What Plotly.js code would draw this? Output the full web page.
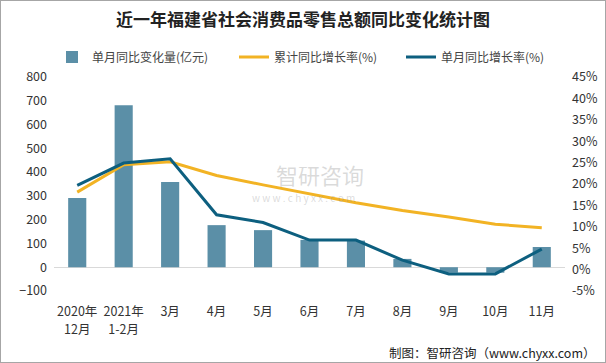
<!DOCTYPE html>
<html><head><meta charset="utf-8">
<script src="https://cdn.plot.ly/plotly-3.0.1.min.js"></script>
<style>
html,body{margin:0;padding:0;background:#fff;}
#wrap{position:relative;width:606px;height:363px;}
#chart{width:606px;height:363px;}
#border{position:absolute;left:0;top:0;width:604px;height:361px;border:1px solid #a6a6a6;pointer-events:none;}
</style></head>
<body><div id="wrap"><div id="chart"></div><div id="border"></div></div>
<script>
const categories = ["2020年","2021年","3月","4月","5月","6月","7月","8月","9月","10月","11月"];
const secondRowLabels = ["12月","1-2月","","","","","","","","",""];
const monthlyChange = [291, 681, 358, 177, 156, 115, 112, 35, -23, -23, 85];
const cumulativeRate = [18.1, 24.5, 25.2, 22.0, 19.8, 17.7, 15.6, 13.8, 12.3, 10.6, 9.8];
const monthlyRate = [19.7, 24.9, 25.9, 12.8, 11.0, 6.9, 6.9, 2.2, -1.0, -1.0, 4.8];
const leftTicks = [-100,0,100,200,300,400,500,600,700,800];
const rightTicks = [-5,0,5,10,15,20,25,30,35,40,45];

const F = '"Noto Sans CJK SC", "Liberation Sans", sans-serif';
const secondRowIdx = secondRowLabels.map((t,i)=>i).filter(i=>secondRowLabels[i]!=='');
const traces = [
  {type:'bar', name:'单月同比变化量(亿元)', x:categories, y:monthlyChange,
   marker:{color:'#5b8fa7'}, yaxis:'y', legend:'legend'},
  {type:'scatter', mode:'lines', name:'累计同比增长率(%)', x:categories, y:cumulativeRate,
   line:{color:'#f2b324', width:3}, yaxis:'y2', legend:'legend2'},
  {type:'scatter', mode:'lines', name:'单月同比增长率(%)', x:categories, y:monthlyRate,
   line:{color:'#0d5f7f', width:3}, yaxis:'y2', legend:'legend3'},
  {type:'scatter', mode:'markers', x:secondRowIdx, y:secondRowIdx.map(()=>0), xaxis:'x2', yaxis:'y',
   marker:{opacity:0, size:1}, showlegend:false, hoverinfo:'skip'}
];
const legFont = {family:F, size:12, color:'#444'};
const legY = 1.093;
const layout = {
  width:606, height:363,
  margin:{l:54, r:41, t:77, b:72},
  paper_bgcolor:'#fff', plot_bgcolor:'#fff',
  title:{text:'近一年福建省社会消费品零售总额同比变化统计图', x:0.5, xanchor:'center', y:0.945, yanchor:'middle',
         font:{family:F, size:17, color:'#222', weight:'bold'}},
  font:{family:F, size:12.5, color:'#333'},
  bargap:0.61,
  showlegend:true,
  legend:{orientation:'h', x:(52-54)/511, xanchor:'left', y:legY, yanchor:'middle', font:legFont},
  legend2:{orientation:'h', x:(234-54)/511, xanchor:'left', y:legY, yanchor:'middle', font:legFont},
  legend3:{orientation:'h', x:(401-54)/511, xanchor:'left', y:legY, yanchor:'middle', font:legFont},
  xaxis:{type:'category', showgrid:false, zeroline:false, showline:false, ticks:'', tickfont:{family:F, size:12.5, color:'#333'}, ticklabelstandoff:11},
  xaxis2:{type:'linear', overlaying:'x', side:'bottom', range:[-0.5, categories.length-0.5], tickmode:'array', tickvals:secondRowIdx, ticktext:secondRowIdx.map(i=>secondRowLabels[i]),
          showgrid:false, zeroline:false, showline:false, ticks:'', tickfont:{family:F, size:12.5, color:'#333'}, ticklabelstandoff:29},
  yaxis:{range:[-100,800], tickvals:leftTicks, showgrid:false, zeroline:true, zerolinecolor:'#d9d9d9', zerolinewidth:1, showline:false, ticks:'', tickfont:{family:F, size:12.5, color:'#333'}, ticklabelstandoff:6},
  yaxis2:{range:[-5,45], tickvals:rightTicks, ticktext:rightTicks.map(v=>v+'%'), overlaying:'y', side:'right', showgrid:false, zeroline:false, showline:false, ticks:'', tickfont:{family:F, size:12.5, color:'#333'}, ticklabelstandoff:6},
  annotations:[
    {text:'智研咨询', xref:'paper', yref:'paper', x:(320-54)/511, y:(291-174)/214, xanchor:'center', yanchor:'middle', showarrow:false, font:{family:F, size:22, color:'rgba(150,150,150,0.35)'}},
    {text:'w w w . c h y x x . c o m', xref:'paper', yref:'paper', x:(303-54)/511, y:(291-197)/214, xanchor:'center', yanchor:'middle', showarrow:false, font:{family:F, size:10, color:'rgba(150,150,150,0.35)'}},
    {text:'制图：智研咨询（www.chyxx.com）', xref:'paper', yref:'paper', x:(598-54)/511, y:(291-352)/214, xanchor:'right', yanchor:'middle', showarrow:false, font:{family:F, size:12.5, color:'#222'}}
  ]
};
Plotly.newPlot('chart', traces, layout, {displayModeBar:false, staticPlot:true});
</script></body></html>
